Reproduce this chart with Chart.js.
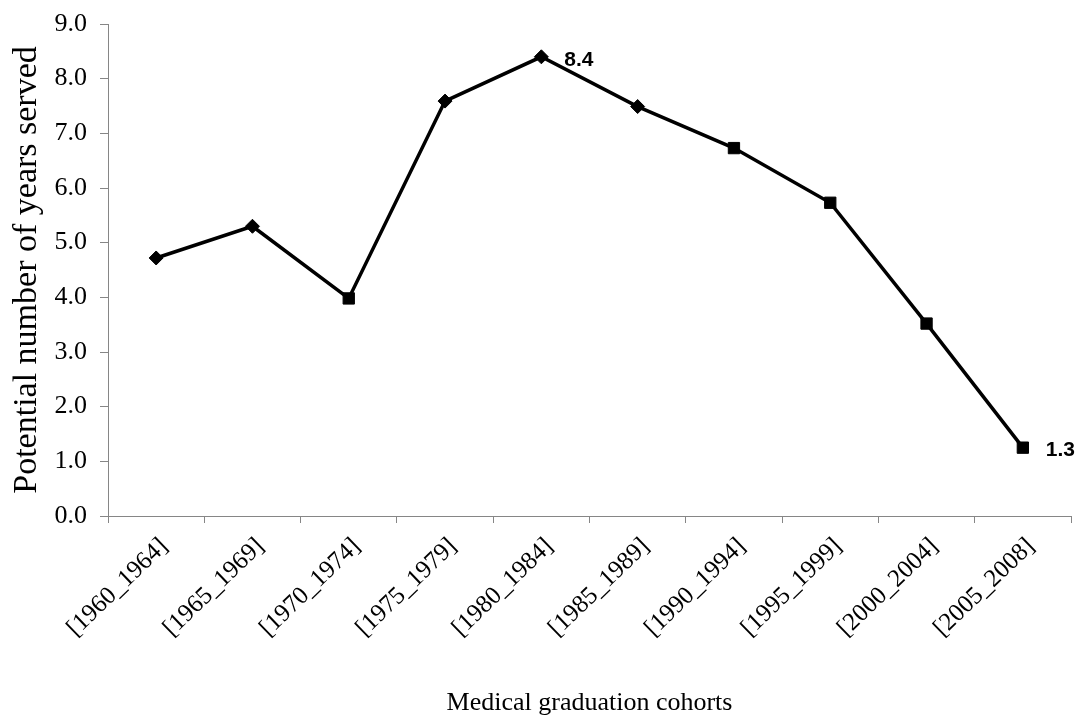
<!DOCTYPE html>
<html>
<head>
<meta charset="utf-8">
<script src="https://cdn.jsdelivr.net/npm/chart.js@4.4.1/dist/chart.umd.min.js"></script>
<style>
  html, body { margin: 0; padding: 0; background: #ffffff; }
  #wrap { width: 1084px; height: 719px; position: relative; }
</style>
</head>
<body>
<div id="wrap"><canvas id="c" width="1084" height="719"></canvas></div>
<script>
const categories = ['[1960_1964]', '[1965_1969]', '[1970_1974]', '[1975_1979]', '[1980_1984]',
                    '[1985_1989]', '[1990_1994]', '[1995_1999]', '[2000_2004]', '[2005_2008]'];
const yearsServed = [4.72, 5.30, 3.98, 7.59, 8.4, 7.49, 6.73, 5.73, 3.52, 1.25];
const labelledPoints = [4, 9];
const labelTexts = ['8.4', '1.3'];
const yTicks = [0, 1, 2, 3, 4, 5, 6, 7, 8, 9];

const serif = '"Liberation Serif", "Times New Roman", serif';
const axisGray = '#868686';
const markerStyles = ['rectRot', 'rectRot', 'rect', 'rectRot', 'rectRot', 'rectRot', 'rect', 'rect', 'rect', 'rect'];

const dataLabelPlugin = {
  id: 'dataLabels',
  afterDatasetsDraw(chart) {
    const ctx = chart.ctx;
    const meta = chart.getDatasetMeta(0);
    ctx.save();
    ctx.font = 'bold 21px "Liberation Sans", Arial, sans-serif';
    ctx.fillStyle = '#000';
    ctx.textAlign = 'left';
    ctx.textBaseline = 'middle';
    labelledPoints.forEach((idx, k) => {
      const el = meta.data[idx];
      ctx.fillText(labelTexts[k], el.x + 23, el.y + 3);
    });
    ctx.restore();
  }
};

new Chart(document.getElementById('c'), {
  type: 'line',
  data: {
    labels: categories,
    datasets: [{
      data: yearsServed,
      borderColor: '#000',
      borderWidth: 3.5,
      backgroundColor: '#000',
      pointBackgroundColor: '#000',
      pointBorderColor: '#000',
      pointStyle: markerStyles,
      pointRadius: markerStyles.map(s => s === 'rect' ? 8 : 7),
      pointBorderWidth: 1,
      tension: 0,
      fill: false,
      clip: false
    }]
  },
  options: {
    responsive: false,
    animation: false,
    devicePixelRatio: 1,
    layout: { padding: { top: 24, right: 13, left: 0, bottom: 0 } },
    plugins: {
      legend: { display: false },
      tooltip: { enabled: false }
    },
    scales: {
      x: {
        type: 'category',
        offset: true,
        grid: {
          display: true,
          drawOnChartArea: false,
          drawTicks: true,
          tickLength: 7,
          color: axisGray,
          offset: true
        },
        border: { display: true, color: axisGray, width: 1 },
        ticks: {
          color: '#000',
          font: { family: serif, size: 25 },
          minRotation: 44,
          maxRotation: 44,
          autoSkip: false,
          padding: 9,
          labelOffset: 8
        },
        title: {
          display: true,
          text: 'Medical graduation cohorts',
          color: '#000',
          font: { family: serif, size: 26 },
          padding: { top: 4, bottom: 0 }
        },
        afterFit(scale) { scale.height = 203; }
      },
      y: {
        min: 0,
        max: 9,
        afterBuildTicks(scale) { scale.ticks = yTicks.map(v => ({ value: v })); },
        grid: {
          display: true,
          drawOnChartArea: false,
          drawTicks: true,
          tickLength: 8,
          color: axisGray
        },
        border: { display: true, color: axisGray, width: 1 },
        ticks: {
          color: '#000',
          font: { family: serif, size: 26 },
          padding: 13,
          callback: (v) => Number(v).toFixed(1)
        },
        title: {
          display: true,
          text: 'Potential number of years served',
          color: '#000',
          font: { family: serif, size: 34 },
          padding: { top: 7, bottom: 4 }
        },
        afterFit(scale) {
          scale.width = 108;
          scale.paddingTop = 0;
          scale.paddingBottom = 0;
        }
      }
    }
  },
  plugins: [dataLabelPlugin]
});
</script>
</body>
</html>
